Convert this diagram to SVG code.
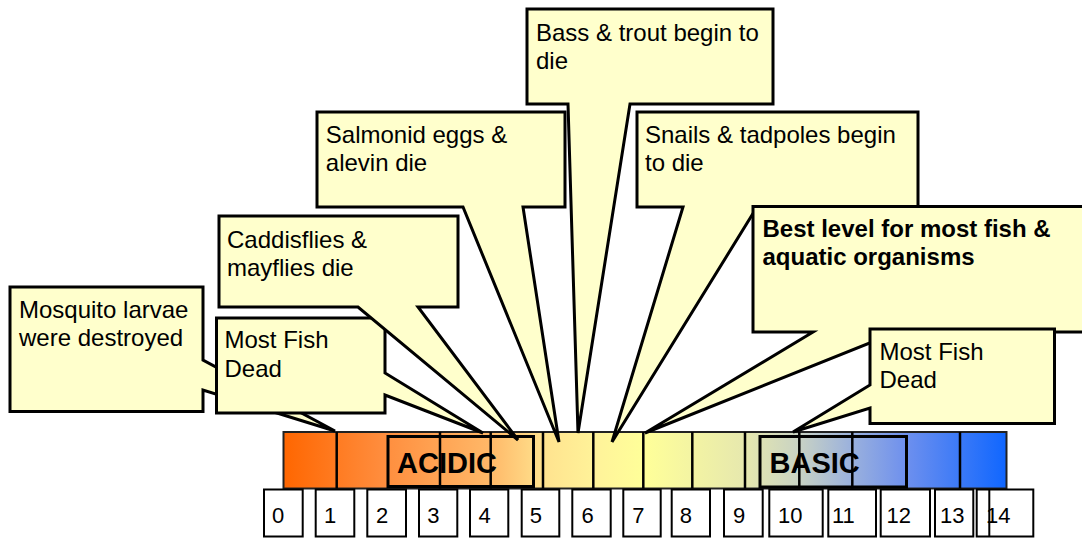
<svg xmlns="http://www.w3.org/2000/svg" width="1082" height="538" viewBox="0 0 1082 538">
<defs>
<linearGradient id="phGrad" gradientUnits="userSpaceOnUse" x1="283" y1="0" x2="1007" y2="0">
<stop offset="0" stop-color="#FF6600"/>
<stop offset="0.134" stop-color="#FF8C3C"/>
<stop offset="0.286" stop-color="#FFB868"/>
<stop offset="0.362" stop-color="#FFE38F"/>
<stop offset="0.438" stop-color="#FFF49A"/>
<stop offset="0.5" stop-color="#FFFF99"/>
<stop offset="0.638" stop-color="#E6E8AE"/>
<stop offset="0.714" stop-color="#C8D2C4"/>
<stop offset="0.783" stop-color="#9CB2DC"/>
<stop offset="0.86" stop-color="#6E90EE"/>
<stop offset="1" stop-color="#0F66FF"/>
</linearGradient>
</defs>
<style>
.callout{fill:#FFFFCC;stroke:#000;stroke-width:3;stroke-linejoin:miter}
.txt{font-family:"Liberation Sans",Arial,sans-serif;font-size:24px;fill:#000}
.bold{font-weight:bold}
.div{stroke:#000;stroke-width:2.5}
.zone{fill:none;stroke:#000;stroke-width:3}
.num{fill:#FFF;stroke:#000;stroke-width:2}
.ntxt{font-family:"Liberation Sans",Arial,sans-serif;font-size:22px;fill:#000}
.big{font-family:"Liberation Sans",Arial,sans-serif;font-size:29px;font-weight:bold;fill:#000}
</style>
<rect width="1082" height="538" fill="#FFFFFF"/>

<g id="ph-bar">
<rect x="283.5" y="432" width="723" height="56.5" fill="url(#phGrad)" stroke="#222" stroke-width="2"/>
<line class="div" x1="336.7" y1="432" x2="336.7" y2="488.5"/>
<line class="div" x1="440" y1="432" x2="440" y2="488.5"/>
<line class="div" x1="490.7" y1="432" x2="490.7" y2="488.5"/>
<line class="div" x1="543" y1="432" x2="543" y2="488.5"/>
<line class="div" x1="593.3" y1="432" x2="593.3" y2="488.5"/>
<line class="div" x1="643.3" y1="432" x2="643.3" y2="488.5"/>
<line class="div" x1="692.3" y1="432" x2="692.3" y2="488.5"/>
<line class="div" x1="745" y1="432" x2="745" y2="488.5"/>
<line class="div" x1="799.3" y1="432" x2="799.3" y2="488.5"/>
<line class="div" x1="852.3" y1="432" x2="852.3" y2="488.5"/>
<line class="div" x1="960" y1="432" x2="960" y2="488.5"/>
</g>

<g id="acidic">
<rect class="zone" x="388" y="436.5" width="145.5" height="50"/>
<text class="big" x="397" y="472.5">ACIDIC</text>
</g>
<g id="basic">
<rect class="zone" x="760" y="436.5" width="146.5" height="50.5"/>
<text class="big" x="769.5" y="472.5">BASIC</text>
</g>

<g id="scale">
<rect class="num" x="264" y="489.5" width="38.7" height="47"/>
<rect class="num" x="315.7" y="489.5" width="38.6" height="47"/>
<rect class="num" x="367.3" y="489.5" width="38.7" height="47"/>
<rect class="num" x="419" y="489.5" width="38.3" height="47"/>
<rect class="num" x="470" y="489.5" width="38.3" height="47"/>
<rect class="num" x="521.7" y="489.5" width="37.6" height="47"/>
<rect class="num" x="572.3" y="489.5" width="38.4" height="47"/>
<rect class="num" x="623.3" y="489.5" width="37.4" height="47"/>
<rect class="num" x="671.7" y="489.5" width="38.3" height="47"/>
<rect class="num" x="724" y="489.5" width="38.7" height="47"/>
<rect class="num" x="769.3" y="489.5" width="53.4" height="47"/>
<rect class="num" x="828.3" y="489.5" width="47.7" height="47"/>
<rect class="num" x="880.7" y="489.5" width="49.3" height="47"/>
<rect class="num" x="935" y="489.5" width="38.3" height="47"/>
<rect class="num" x="976.7" y="489.5" width="56.6" height="47"/>
<line x1="989.3" y1="489.5" x2="989.3" y2="536.5" stroke="#000" stroke-width="2"/>
<text class="ntxt" x="272" y="522.5">0</text>
<text class="ntxt" x="324" y="522.5">1</text>
<text class="ntxt" x="376" y="522.5">2</text>
<text class="ntxt" x="427.3" y="522.5">3</text>
<text class="ntxt" x="478.5" y="522.5">4</text>
<text class="ntxt" x="529.7" y="522.5">5</text>
<text class="ntxt" x="581.5" y="522.5">6</text>
<text class="ntxt" x="632.3" y="522.5">7</text>
<text class="ntxt" x="679.7" y="522.5">8</text>
<text class="ntxt" x="733" y="522.5">9</text>
<text class="ntxt" x="778" y="522.5">10</text>
<text class="ntxt" x="832" y="522.5">11</text>
<text class="ntxt" x="886.5" y="522.5">12</text>
<text class="ntxt" x="940" y="522.5">13</text>
<text class="ntxt" x="986" y="522.5">14</text>
</g>

<g id="callout-mosquito">
<path class="callout" d="M10,287 H203 V360 L335,431 L203,390 V411.5 H10 Z"/>
<text class="txt" x="19" y="317.7">Mosquito larvae</text>
<text class="txt" x="19" y="345.5">were destroyed</text>
</g>

<g id="callout-mostfish-acid">
<path class="callout" d="M216.5,318 H385 V373 L483,433 L385,395 V413 H216.5 Z"/>
<text class="txt" x="224.5" y="348.3">Most Fish</text>
<text class="txt" x="224.5" y="376.5">Dead</text>
</g>

<g id="callout-caddis">
<path class="callout" d="M219,216 H458 V307 H418 L518,440 L358,307 H219 Z"/>
<text class="txt" x="227" y="248.3">Caddisflies &amp;</text>
<text class="txt" x="227" y="276">mayflies die</text>
</g>

<g id="callout-salmonid">
<path class="callout" d="M317,112 H565 V207 H523 L559,442 L463,207 H317 Z"/>
<text class="txt" x="325.8" y="142.7">Salmonid eggs &amp;</text>
<text class="txt" x="325.8" y="170.7">alevin die</text>
</g>

<g id="callout-bass">
<path class="callout" d="M527,9 H773 V104 H630 L578,433 L568,104 H527 Z"/>
<text class="txt" x="536" y="40.7">Bass &amp; trout begin to</text>
<text class="txt" x="536" y="68.5">die</text>
</g>

<g id="callout-snails">
<path class="callout" d="M637,112 H918 V207 H757 L612,442 L683,207 H637 Z"/>
<text class="txt" x="645" y="142.7">Snails &amp; tadpoles begin</text>
<text class="txt" x="645" y="170.7">to die</text>
</g>

<g id="callout-best">
<path class="callout" d="M753,206.5 H1090 V332 H897 L645,433 L813,332 H753 Z"/>
<text class="txt bold" x="762.5" y="236.7">Best level for most fish &amp;</text>
<text class="txt bold" x="762.5" y="265">aquatic organisms</text>
</g>

<g id="callout-mostfish-base">
<path class="callout" d="M870,329 H1054.5 V423.5 H870 V408 L793,432 L870,385 Z"/>
<text class="txt" x="879.5" y="360">Most Fish</text>
<text class="txt" x="879.5" y="387.5">Dead</text>
</g>

<g id="connectors"></g>
</svg>
